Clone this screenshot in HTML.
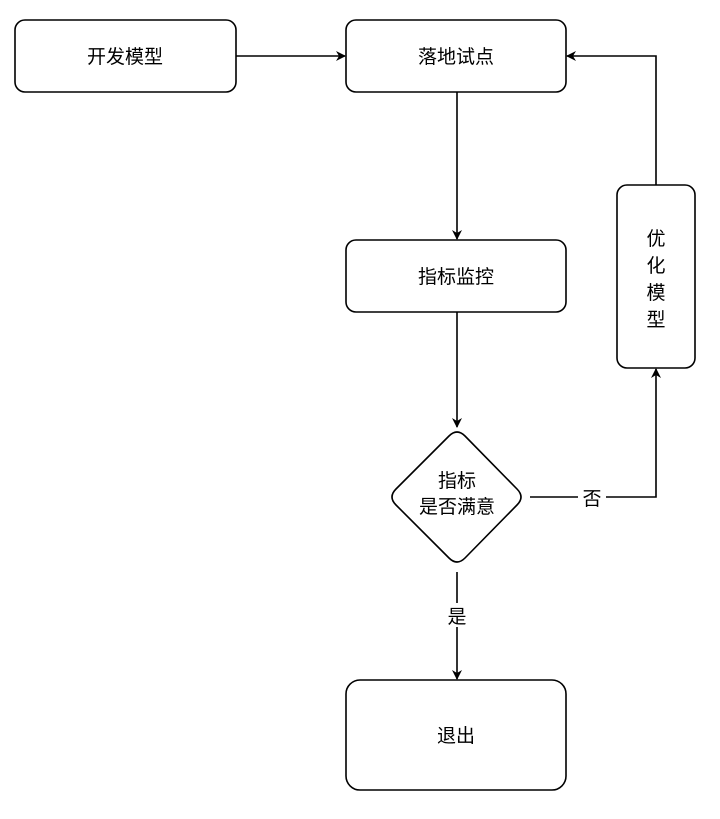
<!DOCTYPE html>
<html><head><meta charset="utf-8"><style>
html,body{margin:0;padding:0;background:#fff;}
svg text{font-family:"Liberation Sans","Noto Sans CJK SC",sans-serif;font-size:19px;fill:#000;}
</style></head><body>
<svg width="720" height="814" viewBox="0 0 720 814" xmlns="http://www.w3.org/2000/svg">
<defs><marker id="a" markerWidth="10" markerHeight="10" refX="9" refY="5" orient="auto" markerUnits="userSpaceOnUse"><path d="M0,0 L10,5 L0,10 L3,5 Z" fill="#000"/></marker></defs>
<g fill="#fff" stroke="#000" stroke-width="1.6">
<rect x="15" y="20" width="221" height="72" rx="10"/>
<rect x="346" y="20" width="220" height="72" rx="10"/>
<rect x="346" y="240" width="220" height="72" rx="10"/>
<rect x="346" y="680" width="220" height="110" rx="14"/>
<rect x="617" y="185" width="78" height="183" rx="10"/>
<path d="M449,436 Q457,428 465,436 L517,489 Q525,497 517,505 L465,558 Q457,566 449,558 L396,505 Q388,497 396,489 Z"/>
</g>
<g fill="none" stroke="#000" stroke-width="1.6">
<line x1="236" y1="56" x2="345" y2="56" marker-end="url(#a)"/>
<line x1="457" y1="92" x2="457" y2="239" marker-end="url(#a)"/>
<line x1="457" y1="312" x2="457" y2="427" marker-end="url(#a)"/>
<path d="M530,497 L656,497 L656,369" marker-end="url(#a)"/>
<path d="M656,185 L656,56 L567,56" marker-end="url(#a)"/>
<line x1="457" y1="572" x2="457" y2="679" marker-end="url(#a)"/>
</g>
<rect x="578" y="486" width="28" height="22" fill="#fff"/>
<rect x="445" y="603" width="24" height="24" fill="#fff"/>
<g text-anchor="middle">
<text x="125" y="63">开发模型</text>
<text x="456" y="63">落地试点</text>
<text x="456" y="283">指标监控</text>
<text x="456" y="742">退出</text>
<text x="457" y="487">指标</text>
<text x="457" y="513">是否满意</text>
<text x="592" y="505">否</text>
<text x="457" y="623">是</text>
<text x="656" y="245">优</text>
<text x="656" y="272">化</text>
<text x="656" y="299">模</text>
<text x="656" y="326">型</text>
</g>
</svg>
</body></html>
